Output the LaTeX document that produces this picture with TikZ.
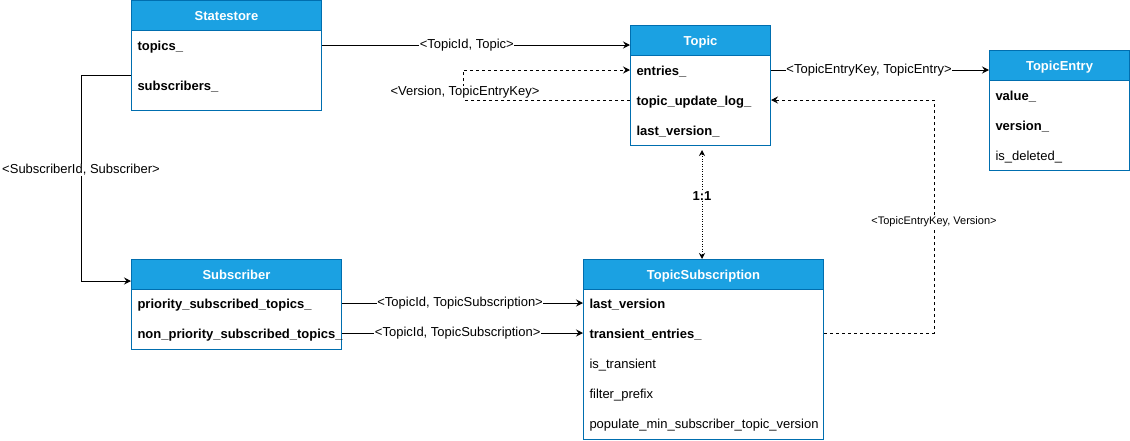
\documentclass[tikz,border=0pt]{standalone}
\usepackage{fontspec}
\setmainfont{Liberation Sans}
\usetikzlibrary{arrows.meta}
\usetikzlibrary{positioning}
\definecolor{hdrblue}{HTML}{1BA1E2}
\definecolor{boxline}{HTML}{006EAF}
\tikzset{cls/.style = {draw=boxline, fill=white, anchor=north west, inner sep=0pt}}
\tikzset{hdr/.style = {draw=boxline, fill=hdrblue, text=white, anchor=north west, minimum height=30pt, inner sep=0pt, text height=10.4pt, text depth=0pt, font=\fontsize{13}{15}\selectfont\bfseries}}
\tikzset{key/.style = {anchor=west, inner sep=0pt, text height=10.6pt, text depth=0pt, font=\fontsize{13}{15}\selectfont\bfseries}}
\tikzset{fld/.style = {key, font=\fontsize{13}{15}\selectfont}}
\tikzset{lbl/.style = {fill=white, inner sep=0.5pt, font=\fontsize{13}{15}\selectfont}}
\tikzset{arr/.style = {-{Stealth[length=7pt, width=7pt, inset=2.5pt]}}}

\begin{document}
\begin{tikzpicture}[x=1pt, y=-1pt, line width=1pt]
    \useasboundingbox (0,0) rectangle (1130,440);

    \begin{scope}[shift={(131,0)}]
      \node [cls, minimum width=190pt, minimum height=110pt] (st) at (0,0) {};
      \node [hdr, minimum width=190pt] (st-hdr) at (0,0) {Statestore};
      \node [key] (st-topics) at (6,45) {topics\_};
      \node [key] (st-subs) at (6,85) {subscribers\_};
      \coordinate (st-out) at (0,75);
    \end{scope}

    \begin{scope}[shift={(630,25)}]
      \node [cls, minimum width=140pt, minimum height=120pt] (topic) at (0,0) {};
      \node [hdr, minimum width=140pt] (topic-hdr) at (0,0) {Topic};
      \node [key] (topic-entries) at (6,45) {entries\_};
      \node [key] (topic-log) at (6,75) {topic\_update\_log\_};
      \node [key] (topic-last) at (6,105) {last\_version\_};
      \coordinate (topic-foot) at (72,125);
    \end{scope}

    \begin{scope}[shift={(989,50)}]
      \node [cls, minimum width=140pt, minimum height=120pt] (te) at (0,0) {};
      \node [hdr, minimum width=140pt] (te-hdr) at (0,0) {TopicEntry};
      \node [key] (te-value) at (6,45) {value\_};
      \node [key] (te-version) at (6,75) {version\_};
      \node [fld] (te-deleted) at (6,105) {is\_deleted\_};
    \end{scope}

    \begin{scope}[shift={(131,259)}]
      \node [cls, minimum width=210pt, minimum height=90pt] (sub) at (0,0) {};
      \node [hdr, minimum width=210pt] (sub-hdr) at (0,0) {Subscriber};
      \node [key] (sub-prio) at (6,44) {priority\_subscribed\_topics\_};
      \node [key] (sub-nonprio) at (6,74) {non\_priority\_subscribed\_topics\_};
      \coordinate (sub-in) at (0,22);
    \end{scope}

    \begin{scope}[shift={(583,259)}]
      \node [cls, minimum width=240pt, minimum height=180pt] (ts) at (0,0) {};
      \node [hdr, minimum width=240pt] (ts-hdr) at (0,0) {TopicSubscription};
      \node [key] (ts-last) at (6,44) {last\_version};
      \node [key] (ts-trans) at (6,74) {transient\_entries\_};
      \node [fld] (ts-istrans) at (6,104) {is\_transient};
      \node [fld] (ts-filter) at (6,134) {filter\_prefix};
      \node [fld] (ts-populate) at (6,164) {populate\_min\_subscriber\_topic\_version};
    \end{scope}

    \draw [arr] (st-topics -| st.east) -- (st-topics -| topic.west) node [lbl, pos=0.47] {<TopicId, Topic>};
    \draw [arr] (st-out) -- ++(-50,0) |- (sub-in) node [lbl, pos=0.23] {<SubscriberId, Subscriber>};

    \draw [arr, dashed] (topic-log -| topic.west) -- ++(-167,0) |- (topic-entries -| topic.west);
    \node [lbl] (lbl-ver) at (465,92.5) {<Version, TopicEntryKey>};

    \draw [arr] (topic-entries -| topic.east) -- (topic-entries -| te.west) node [lbl, pos=0.45] {<TopicEntryKey, TopicEntry>};
    \draw [arr, dashed] (ts-trans -| ts.east) -- ++(110,0) |- (topic-log -| topic.east) node [lbl, pos=0.24, font=\fontsize{11}{13}\selectfont] {<TopicEntryKey, Version>};

    \draw [{Stealth[length=6pt, width=6pt, inset=2pt]}-{Stealth[length=6pt, width=6pt, inset=2pt]}, dash pattern=on 1pt off 1.5pt] (topic-foot) -- (topic-foot |- ts.north) node [lbl, pos=0.42, font=\fontsize{13}{15}\selectfont\bfseries] {1:1};

    \draw [arr] (sub-prio -| sub.east) -- (sub-prio -| ts.west) node [lbl, pos=0.49] {<TopicId, TopicSubscription>};
    \draw [arr] (sub-nonprio -| sub.east) -- (sub-nonprio -| ts.west) node [lbl, pos=0.48] {<TopicId, TopicSubscription>};
  \end{tikzpicture}
\end{document}
